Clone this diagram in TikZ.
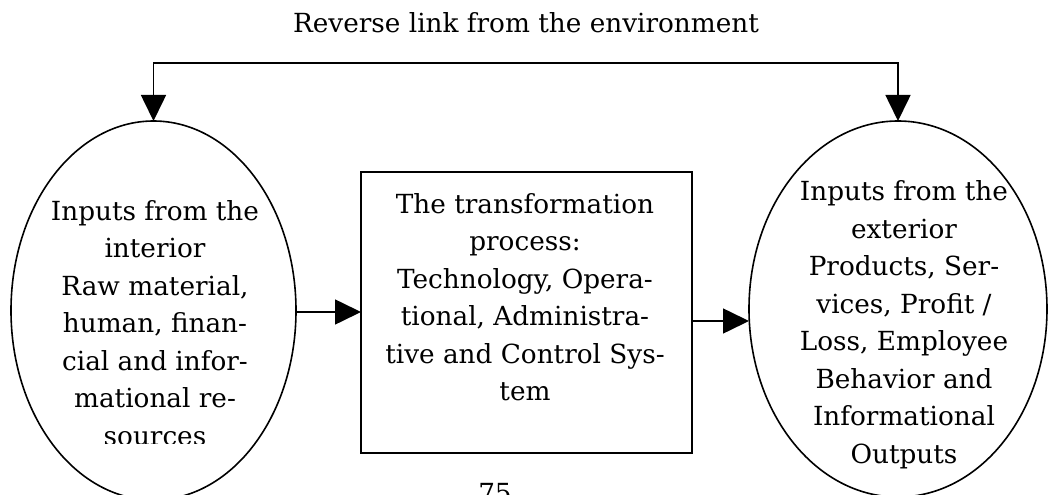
\documentclass[tikz,border=0pt]{standalone}
\usepackage{fontspec}
\setmainfont{DejaVu Serif}
\usetikzlibrary{shapes.geometric,arrows.meta}
\tikzset{
  ell/.style={draw, ellipse, line width=1.6pt, inner sep=0pt, outer sep=0pt},
  procbox/.style={draw, rectangle, line width=2pt, inner sep=0pt, outer sep=0pt},
  txt/.style={font=\fontsize{26.3}{37.5}\selectfont, align=center, inner sep=0pt, anchor=base},
  arr/.style={line width=1.6pt, -{Triangle[length=26pt,width=25pt]}},
  arr2/.style={line width=1.6pt, {Triangle[length=26pt,width=25pt]}-{Triangle[length=26pt,width=25pt]}}
}
\begin{document}
\begin{tikzpicture}[x=1pt,y=-1pt]
\useasboundingbox (0,0) rectangle (1053,495);
\clip (0,0) rectangle (1053,495);
% shapes
\node[ell, minimum width=285pt, minimum height=379pt] (L) at (153.5,310.5) {};
\node[ell, minimum width=298pt, minimum height=376pt] (R) at (898,309) {};
\node[procbox, minimum width=331pt, minimum height=281pt] (B) at (526.5,312.5) {};
% texts (base anchor = baseline of the last line)
\node[txt] (title) at (526,33) {Reverse link from the environment};
\begin{scope}
\clip (0,0) rectangle (330,443);
\node[txt] (Ltxt) at (155,445) {Inputs from the\\interior\\Raw material,\\human, finan-\\cial and infor-\\mational re-\\sources};
\end{scope}
\node[txt] (Btxt) at (525,400.5) {The transformation\\process:\\Technology, Opera-\\tional, Administra-\\tive and Control Sys-\\tem};
\node[txt] (Rtxt) at (904,463) {Inputs from the\\exterior\\Products, Ser-\\vices, Profit /\\Loss, Employee\\Behavior and\\Informational\\Outputs};
\node[txt] (page) at (495,502) {75};
% connectors
\coordinate (fb) at (526,63);
\coordinate (m1) at (330,312);
\coordinate (m2) at (720,321);
\draw[arr2] (L.north) -- (L.north |- fb) -- (R.north |- fb) -- (R.north);
\draw[arr] (L.east |- m1) -- (B.west |- m1);
\draw[arr] (B.east |- m2) -- (R.west |- m2);
\end{tikzpicture}
\end{document}
